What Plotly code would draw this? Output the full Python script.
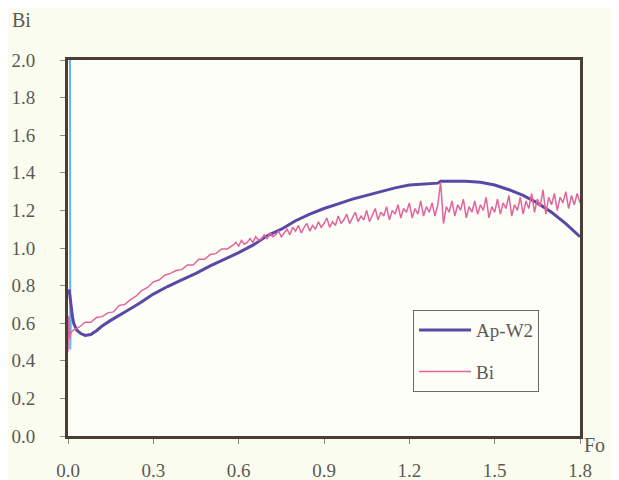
import plotly.graph_objects as go

# ---- data ----
apw2_fo = [0.004, 0.008, 0.012, 0.016, 0.02, 0.03, 0.045, 0.06, 0.08, 0.10, 0.12, 0.15,
           0.20, 0.25, 0.30, 0.35, 0.40, 0.45, 0.50, 0.55, 0.60, 0.65, 0.70, 0.75, 0.80,
           0.85, 0.90, 0.95, 1.00, 1.05, 1.10, 1.15, 1.20, 1.25, 1.30, 1.31, 1.35, 1.40,
           1.45, 1.50, 1.55, 1.60, 1.65, 1.70, 1.75, 1.80]
apw2_bi = [0.78, 0.72, 0.68, 0.63, 0.60, 0.565, 0.545, 0.535, 0.54, 0.56, 0.585, 0.615,
           0.66, 0.705, 0.755, 0.795, 0.83, 0.865, 0.905, 0.94, 0.975, 1.015, 1.065, 1.10, 1.145,
           1.18, 1.21, 1.235, 1.26, 1.28, 1.30, 1.32, 1.335, 1.34, 1.345, 1.355, 1.355, 1.355,
           1.35, 1.335, 1.31, 1.28, 1.24, 1.19, 1.13, 1.06]

bi_fo = [0.000, 0.003, 0.006, 0.010, 0.020, 0.040, 0.060, 0.080, 0.100, 0.120, 0.140, 0.160,
         0.180, 0.200, 0.220, 0.240, 0.260, 0.280, 0.300, 0.320, 0.340, 0.360, 0.380, 0.400,
         0.420, 0.440, 0.460, 0.480, 0.500, 0.520, 0.540, 0.560, 0.580,
         0.59, 0.60, 0.61, 0.62, 0.63, 0.64, 0.65, 0.66, 0.67, 0.68, 0.69,
         0.70, 0.71, 0.72, 0.73, 0.74, 0.75, 0.76, 0.77, 0.78, 0.79,
         0.80, 0.81, 0.82, 0.83, 0.84, 0.85, 0.86, 0.87, 0.88, 0.89,
         0.90, 0.91, 0.92, 0.93, 0.94, 0.95, 0.96, 0.97, 0.98, 0.99,
         1.00, 1.01, 1.02, 1.03, 1.04, 1.05, 1.06, 1.07, 1.08, 1.09,
         1.10, 1.11, 1.12, 1.13, 1.14, 1.15, 1.16, 1.17, 1.18, 1.19,
         1.20, 1.21, 1.22, 1.23, 1.24, 1.25, 1.26, 1.27, 1.28, 1.29,
         1.30, 1.31, 1.32, 1.33, 1.34, 1.35, 1.36, 1.37, 1.38, 1.39,
         1.40, 1.41, 1.42, 1.43, 1.44, 1.45, 1.46, 1.47, 1.48, 1.49,
         1.50, 1.51, 1.52, 1.53, 1.54, 1.55, 1.56, 1.57, 1.58, 1.59,
         1.60, 1.61, 1.62, 1.63, 1.64, 1.65, 1.66, 1.67, 1.68, 1.69,
         1.70, 1.71, 1.72, 1.73, 1.74, 1.75, 1.76, 1.77, 1.78, 1.79, 1.80]
bi_bi = [0.45, 0.64, 0.52, 0.55, 0.565, 0.58, 0.605, 0.605, 0.63, 0.635, 0.655, 0.66,
         0.695, 0.70, 0.725, 0.745, 0.775, 0.79, 0.82, 0.83, 0.855, 0.865, 0.88, 0.885,
         0.91, 0.91, 0.94, 0.94, 0.965, 0.97, 0.995, 0.995, 1.015,
         1.03, 1.01, 1.04, 1.02, 1.03, 1.05, 1.03, 1.06, 1.04, 1.05, 1.07,
         1.05, 1.08, 1.06, 1.07, 1.09, 1.06, 1.08, 1.10, 1.07, 1.11,
         1.09, 1.12, 1.08, 1.11, 1.13, 1.09, 1.12, 1.10, 1.14, 1.11,
         1.13, 1.16, 1.11, 1.14, 1.12, 1.17, 1.13, 1.15, 1.18, 1.13,
         1.16, 1.19, 1.14, 1.17, 1.15, 1.20, 1.14, 1.18, 1.21, 1.15,
         1.19, 1.17, 1.22, 1.15, 1.20, 1.18, 1.23, 1.16, 1.21, 1.19,
         1.24, 1.16, 1.21, 1.18, 1.25, 1.17, 1.22, 1.19, 1.24, 1.17,
         1.23, 1.35, 1.13, 1.22, 1.19, 1.25, 1.17, 1.23, 1.20, 1.26,
         1.16, 1.22, 1.19, 1.25, 1.18, 1.23, 1.20, 1.27, 1.16, 1.22,
         1.19, 1.26, 1.18, 1.24, 1.21, 1.28, 1.17, 1.23, 1.20, 1.27,
         1.18, 1.25, 1.21, 1.29, 1.19, 1.26, 1.22, 1.31, 1.18, 1.27,
         1.23, 1.29, 1.20, 1.27, 1.24, 1.30, 1.21, 1.28, 1.23, 1.29, 1.24]

start_fo = [0.007, 0.007, 0.008, 0.010]
start_bi = [2.10, 0.80, 0.46, 0.62]

x_ticks = [0.0, 0.3, 0.6, 0.9, 1.2, 1.5, 1.8]
x_labels = ["0.0", "0.3", "0.6", "0.9", "1.2", "1.5", "1.8"]
y_ticks = [0.0, 0.2, 0.4, 0.6, 0.8, 1.0, 1.2, 1.4, 1.6, 1.8, 2.0]
y_labels = ["0.0", "0.2", "0.4", "0.6", "0.8", "1.0", "1.2", "1.4", "1.6", "1.8", "2.0"]

FONT = "Liberation Serif"
TXT = "#5a5a55"
FRAME = "#4a3d34"

fig = go.Figure()
fig.add_trace(go.Scatter(x=start_fo, y=start_bi, mode="lines", showlegend=False,
                         line=dict(color="#5fb6ee", width=2)))
fig.add_trace(go.Scatter(x=apw2_fo, y=apw2_bi, mode="lines", name="Ap-W2",
                         legendgroup="a", line=dict(color="#5a48a6", width=3)))
fig.add_trace(go.Scatter(x=bi_fo, y=bi_bi, mode="lines", name="Bi",
                         legendgroup="b", line=dict(color="#e2649c", width=1.5)))

# the page adds an 8 px body margin, so the figure is sized 8 px smaller
fig.update_layout(
    width=611, height=472,
    margin=dict(l=60, r=39, t=52, b=44, autoexpand=False),
    paper_bgcolor="#fbfcf0",
    plot_bgcolor="#fefef8",
    font=dict(family=FONT, size=19, color=TXT),
    legend=dict(x=0.674, y=0.335, xanchor="left", yanchor="top",
                bgcolor="#fefef8", bordercolor="#6a6a66", borderwidth=1,
                font=dict(family=FONT, size=19, color=TXT),
                tracegroupgap=14, itemwidth=52),
    xaxis=dict(range=[0, 1.8], tickvals=x_ticks, ticktext=x_labels,
               showgrid=False, zeroline=False, showline=True, mirror=True,
               linecolor=FRAME, linewidth=3, ticks="outside", ticklen=5,
               tickcolor="#8a8a85", tickwidth=1, ticklabelstandoff=10,
               automargin=False),
    yaxis=dict(range=[0, 2.0], tickvals=y_ticks, ticktext=y_labels,
               showgrid=False, zeroline=False, showline=True, mirror=True,
               linecolor=FRAME, linewidth=3, ticks="outside", ticklen=5,
               tickcolor="#8a8a85", tickwidth=1, ticklabelstandoff=21,
               automargin=False),
    annotations=[
        dict(text="Bi", xref="paper", yref="paper", x=-0.09, y=1.106,
             xanchor="center", yanchor="middle", showarrow=False,
             font=dict(family=FONT, size=20, color=TXT)),
        dict(text="Fo", xref="paper", yref="paper", x=1.004, y=-0.024,
             xanchor="left", yanchor="middle", showarrow=False,
             font=dict(family=FONT, size=20, color=TXT)),
    ],
)

fig.write_html("out.html")
